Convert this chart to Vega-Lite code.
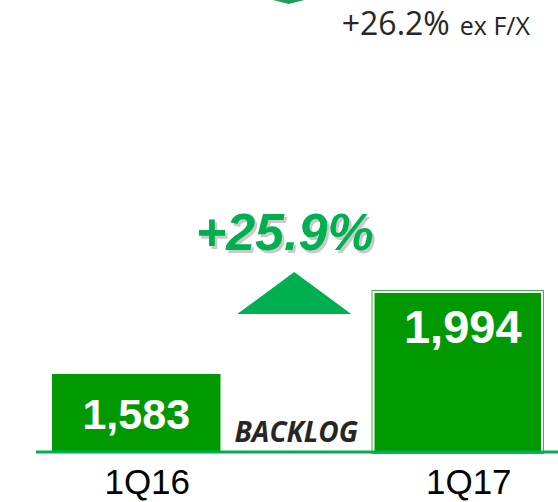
{
  "$schema": "https://vega.github.io/schema/vega-lite/v6.json",
  "width": 558,
  "height": 452,
  "autosize": {"type": "none"},
  "padding": {"left": 0, "top": 0, "right": 0, "bottom": 50},
  "background": "white",
  "config": {"view": {"stroke": null}},
  "data": {"values": [{"quarter": "1Q16", "backlog": 1583}, {"quarter": "1Q17", "backlog": 1994}]},
  "layer": [
    {
      "transform": [{"filter": "datum.quarter == '1Q16'"}],
      "mark": {"type": "bar", "color": "#009900"},
      "encoding": {
        "x": {"field": "quarter", "type": "nominal", "sort": ["1Q16", "1Q17"],
          "scale": {"range": [52, 542], "paddingInner": 0.476, "paddingOuter": 0},
          "axis": {"title": null, "domain": false, "ticks": false, "grid": false, "labelAngle": 0,
            "labelFont": "Liberation Sans", "labelFontSize": 35, "labelColor": "#000000",
            "labelPadding": 13, "labelOffset": 11}},
        "y": {"field": "backlog", "type": "quantitative", "scale": {"domain": [1192, 3457.6], "zero": false, "nice": false}, "axis": null},
        "y2": {"datum": 1192}
      }
    },
    {
      "transform": [{"filter": "datum.quarter == '1Q17'"}],
      "mark": {"type": "bar", "color": "#009900", "stroke": "#3cb44b", "strokeWidth": 4},
      "encoding": {
        "x": {"field": "quarter", "type": "nominal"},
        "y": {"field": "backlog", "type": "quantitative"},
        "y2": {"datum": 1192}
      }
    },
    {
      "transform": [{"filter": "datum.quarter == '1Q17'"}],
      "mark": {"type": "bar", "color": "#009900", "stroke": "#ffffff", "strokeWidth": 2},
      "encoding": {
        "x": {"field": "quarter", "type": "nominal"},
        "y": {"field": "backlog", "type": "quantitative"},
        "y2": {"datum": 1192}
      }
    },
    {
      "data": {"values": [{"a": 1}]},
      "mark": {"type": "rule", "color": "#00b050", "strokeWidth": 3, "xOffset": -16, "x2Offset": 16},
      "encoding": {
        "x": {"datum": "1Q16", "bandPosition": 0},
        "x2": {"datum": "1Q17", "bandPosition": 1},
        "y": {"datum": 1192}
      }
    },
    {
      "transform": [{"filter": "datum.quarter == '1Q16'"}],
      "mark": {"type": "text", "color": "#ffffff", "font": "Liberation Sans", "fontWeight": "bold", "fontSize": 43, "baseline": "alphabetic", "dy": 55},
      "encoding": {
        "x": {"field": "quarter", "type": "nominal"},
        "y": {"field": "backlog", "type": "quantitative"},
        "text": {"field": "backlog", "type": "quantitative", "format": ","}
      }
    },
    {
      "transform": [{"filter": "datum.quarter == '1Q17'"}],
      "mark": {"type": "text", "color": "#ffffff", "font": "Liberation Sans", "fontWeight": "bold", "fontSize": 47, "baseline": "alphabetic", "dy": 51, "dx": 5},
      "encoding": {
        "x": {"field": "quarter", "type": "nominal"},
        "y": {"field": "backlog", "type": "quantitative"},
        "text": {"field": "backlog", "type": "quantitative", "format": ","}
      }
    },
    {
      "data": {"values": [{"label": "BACKLOG"}]},
      "mark": {"type": "text", "color": "#262626", "font": "Open Sans", "fontWeight": "bold", "fontStyle": "italic", "fontSize": 28, "baseline": "alphabetic", "align": "center", "dx": 160},
      "encoding": {
        "x": {"datum": "1Q16"},
        "y": {"datum": 1242},
        "text": {"field": "label"}
      }
    },
    {
      "data": {"values": [{"label": "+25.9%"}]},
      "mark": {"type": "text", "color": "#a8a8a8", "opacity": 0.6, "font": "Liberation Sans", "fontWeight": "bold", "fontStyle": "italic", "fontSize": 52, "baseline": "alphabetic", "align": "center", "dx": 151, "dy": 3},
      "encoding": {
        "x": {"datum": "1Q16"},
        "y": {"datum": 2204.5},
        "text": {"field": "label"}
      }
    },
    {
      "data": {"values": [{"label": "+25.9%"}]},
      "mark": {"type": "text", "color": "#00b050", "font": "Liberation Sans", "fontWeight": "bold", "fontStyle": "italic", "fontSize": 52, "baseline": "alphabetic", "align": "center", "dx": 148.5},
      "encoding": {
        "x": {"datum": "1Q16"},
        "y": {"datum": 2204.5},
        "text": {"field": "label"}
      }
    },
    {
      "data": {"values": [{"label": "up"}]},
      "mark": {"type": "point", "filled": true, "color": "#00b050", "opacity": 1, "strokeWidth": 0, "shape": "M-1,0.368L0,-0.368L1,0.368Z", "size": 12996, "xOffset": 158},
      "encoding": {
        "x": {"datum": "1Q16"},
        "y": {"datum": 1989}
      }
    },
    {
      "data": {"values": [{"label": "down"}]},
      "mark": {"type": "point", "filled": true, "color": "#1e9b5e", "opacity": 1, "strokeWidth": 0, "shape": "M0,0L-1,-0.256L1,-0.256Z", "size": 1600, "xOffset": 152.5},
      "encoding": {
        "x": {"datum": "1Q16"},
        "y": {"datum": 3437.5}
      }
    },
    {
      "data": {"values": [{"label": "+26.2%"}]},
      "mark": {"type": "text", "color": "#262626", "font": "Open Sans", "fontSize": 32, "baseline": "alphabetic", "align": "left", "dx": -116},
      "encoding": {
        "x": {"datum": "1Q17"},
        "y": {"datum": 3282},
        "text": {"field": "label"}
      }
    },
    {
      "data": {"values": [{"label": "ex F/X"}]},
      "mark": {"type": "text", "color": "#262626", "font": "Open Sans", "fontSize": 25, "baseline": "alphabetic", "align": "left", "dx": 2},
      "encoding": {
        "x": {"datum": "1Q17"},
        "y": {"datum": 3282},
        "text": {"field": "label"}
      }
    }
  ]
}
